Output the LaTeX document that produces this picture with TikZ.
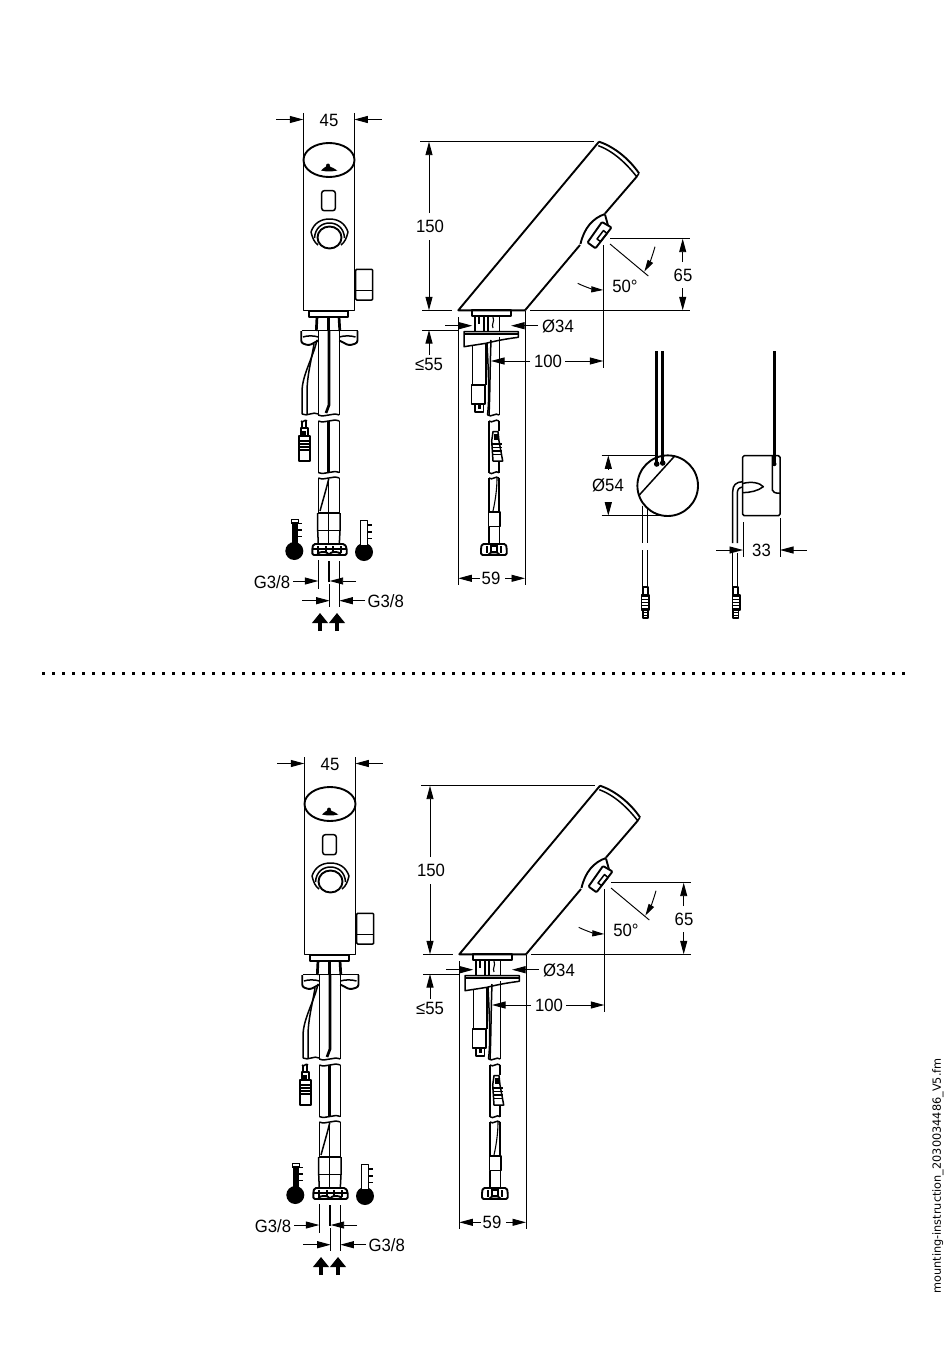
\documentclass[tikz,border=0pt]{standalone}
\usepackage{fontspec}
\setmainfont{Liberation Sans}
\newfontfamily\dimfont[FakeStretch=0.94]{Liberation Sans}
\newfontfamily\sidefont{DejaVu Sans}
\usetikzlibrary{arrows.meta}
\newcommand{\wavecut}[3]{\draw[part] (#1,#3) .. controls ({#1+(#2-#1)/3},{#3+3}) and ({#1+2*(#2-#1)/3},{#3-3}) .. (#2,#3);}
% striped plug: left right top-of-stripes bottom-of-stripes
\newcommand{\stripeplug}[4]{%
  \draw[part,fill=white] (#1,#3) rectangle (#2,#4);
  \foreach \yy in {0,0.2,0.4,0.6,0.8}{\draw[thin2,line width=1.3pt] (#1,{#3+\yy*(#4-#3)+1.5}) -- (#2,{#3+\yy*(#4-#3)+1.5});}}
\tikzset{
  part/.style={line width=1.5pt,line join=round},
  bold/.style={line width=1.9pt,line join=round},
  heavy/.style={line width=2.7pt},
  thin2/.style={line width=1.1pt},
  dimline/.style={line width=0.95pt},
  dimarrow/.style={line width=0.95pt,-{Triangle[length=13.5pt,width=7pt]}},
  curvearrow/.style={line width=0.95pt,-{Triangle[length=12pt,width=6pt]}},
  dimtext/.style={font=\dimfont\fontsize{17.8}{17.8}\selectfont,inner sep=0pt,anchor=center},
  flowarrow/.style={line width=4pt,-{Triangle[length=10pt,width=15.5pt]}},
  faucet/.pic={
    % ---------- front view ----------
    \draw[part] (303.3,160) -- (303.3,310.7) -- (354.3,310.7) -- (354.3,160);
    \draw[bold] (329,160) ellipse [x radius=25.5,y radius=17];
    % logo
    \fill (321,170.5) .. controls (323,168) and (325,167.5) .. (326,166.5) .. controls (325.5,162.5) and (330.5,162.5) .. (330,166.5) .. controls (331,167.5) and (335,168) .. (337.3,170.5) .. controls (331,171.8) and (327,171.8) .. (321,170.5) -- cycle;
    \draw[part,rounded corners=2.5pt] (321.7,190.7) rectangle (335.3,210.7);
    % sensor
    \draw[part] (318,245) .. controls (314,242) and (312.5,238) .. (311,232) .. controls (314,223) and (321,219) .. (329.5,219) .. controls (338,219) and (345,223) .. (348,232) .. controls (346.5,238) and (345,242) .. (341,245);
    \draw[part] (314.5,238) .. controls (315,228) and (322,223) .. (329.5,223) .. controls (337,223) and (344,228) .. (344.5,238);
    \draw[line width=1.9pt,fill=white] (329.5,237.5) ellipse [x radius=12,y radius=11];
    % side knob
    \draw[part,rounded corners=1pt] (355.7,300) -- (355.7,269.3) -- (372.7,269.3) -- (372.7,300) -- cycle;
    \draw[thin2] (355.7,290.7) -- (372.7,290.7);
    % base
    \draw[bold] (309.3,310.7) rectangle (348.3,316.7);
    \draw[heavy] (317,316.7) -- (316.3,331);
    \draw[heavy] (328.5,316.7) -- (328.5,331);
    \draw[heavy] (339,316.7) -- (339.8,331);
    \draw[part] (301.7,330.5) -- (357.5,330.5);
    \draw[bold,rounded corners=2.5pt] (301.2,331) -- (301.2,343) -- (309,345.5) -- (318.3,340.5);
    \draw[part] (303,337) .. controls (307,335.5) and (314,335.5) .. (318.3,337);
    \draw[bold,rounded corners=2.5pt] (357.5,331) -- (357.5,343) -- (349,345.5) -- (339.3,340.5);
    \draw[part] (355.5,337) .. controls (351,335.5) and (344,335.5) .. (339.3,337);
    % hoses upper
    \draw[part] (318.3,331) -- (318.3,415);
    \draw[heavy] (329,331) -- (329,405) -- (326,413);
    \draw[part] (339.3,331) -- (339.3,415);
    \draw[part] (317,340) .. controls (313,358) and (302,375) .. (302,392) -- (302,414);
    \draw[part] (314,344) .. controls (311,362) and (307,376) .. (307,392) -- (307,414);
    \wavecut{302}{318.3}{414}\wavecut{318.3}{339.3}{415}
    % hoses mid
    \draw[part] (318.3,421) -- (318.3,472.5);\draw[part] (339.3,421) -- (339.3,472.5);
    \draw[heavy] (328.7,421) -- (328.7,472.5);
    \wavecut{318.3}{339.3}{421}\wavecut{318.3}{339.3}{472.5}
    % plug front
    \draw[part] (302,421) -- (302,428);\draw[part] (306,421) -- (306,428);
    \wavecut{301}{307}{421}
    \draw[part] (301,428) rectangle (308,436);
    \draw[bold] (299.3,436) rectangle (310,460.7);
    \foreach \yy in {441,444,447,450}{\draw[thin2] (299.3,\yy) -- (310,\yy);}
    \fill (302,431) rectangle (305.5,435);
    % hoses lower
    \draw[part] (318.3,478) -- (318.3,512);\draw[part] (339.3,478) -- (339.3,512);
    \wavecut{318.3}{339.3}{478}
    \draw[part] (328.7,479) .. controls (326,490) and (323,500) .. (320,511);
    \draw[part] (328.7,479) -- (328.7,512);
    \draw[part] (317.7,513) -- (340,513);
    \draw[part] (317.7,513) -- (317.7,530.7) -- (318.3,544);\draw[part] (340,513) -- (340,530.7) -- (339.3,544);
    \draw[part] (328.7,513) -- (328.7,544);
    \draw[part] (317.7,530.7) -- (340,530.7);
    \draw[bold,rounded corners=1.5pt,fill=white] (313.5,544) -- (344.5,544) -- (346.7,548) -- (346.7,555) -- (312.3,555) -- (312.3,548) -- cycle;
    \draw[bold] (317,555) arc (180:360:6 and 3);\draw[bold] (329,555) arc (180:360:6 and 3);
    \foreach \xx in {318,326,333,341}{\fill (\xx-1.3,546) rectangle (\xx+1.3,553);}
    \draw[thin2] (312.3,549) -- (346.7,549);
    % thermometers
    \fill (294.3,551) circle [radius=9];
    \fill (291.7,523) rectangle (298.3,545);
    \draw[thin2] (291.7,519.3) rectangle (298.3,523);
    \foreach \yy in {523.5,530,536.5}{\draw[thin2] (298.3,\yy) -- (302,\yy);}
    \fill (364,552) circle [radius=9];
    \draw[part,fill=white] (360.7,545) -- (360.7,520.5) -- (367.7,520.5) -- (367.7,545);
    \foreach \yy in {525,532,538.5}{\draw[thin2] (367.7,\yy) -- (372,\yy);}
    % ---------- front dims ----------
    \draw[dimline] (303.3,113) -- (303.3,160);\draw[dimline] (354.3,113) -- (354.3,160);
    \draw[dimarrow] (276,119.5) -- (303.3,119.5);
    \draw[dimarrow] (381.7,119.5) -- (354.3,119.5);
    \node[dimtext] (t45) at (329,120) {45};
    \draw[dimline] (318.3,560) -- (318.3,589);
    \draw[line width=1.6pt] (328.7,561) -- (328.7,582);
    \draw[dimline] (329.7,584) -- (329.7,607);
    \draw[dimline] (339.3,561) -- (339.3,607);
    \draw[dimarrow] (293,581) -- (318.3,581);
    \draw[dimarrow] (356,581) -- (329.7,581);
    \draw[dimarrow] (302,600.7) -- (329.7,600.7);
    \draw[dimarrow] (365,600.7) -- (339.3,600.7);
    \node[dimtext] (tg1) at (272,582) {G3/8};
    \node[dimtext] (tg2) at (385.7,601) {G3/8};
    \draw[flowarrow] (320,631) -- (320,613);
    \draw[flowarrow] (337,631) -- (337,613);
    % ---------- side view ----------
    \draw[bold] (525,310.3) -- (458.3,310.3) -- (599,141.7);
    \draw[bold] (599,141.7) .. controls (615,147) and (630,160) .. (639,173.3);
    \draw[part] (598.3,145.7) .. controls (613,151) and (626,163) .. (636.7,176.7) -- (639,173.3);
    \draw[bold] (636.7,176.7) -- (605,213.5);
    \draw[bold] (605,214) .. controls (593,218) and (584,228) .. (580.5,244);
    \draw[bold] (580,245) -- (525,310.3);
    \draw[bold,rounded corners=1pt,fill=white] (602,222) -- (611.5,227.5) -- (595.5,248.3) -- (587.5,242.5) -- cycle;
    \draw[bold] (605,214.5) -- (608,225.5);
    \draw[part] (597,239) -- (603.5,230.5) -- (607,233.5) -- (600.5,241.5) -- cycle;
    % base and fittings
    \draw[bold] (472.3,310.3) rectangle (511,316);
    \draw[part] (475,316) -- (475,332);\draw[part] (484,316) -- (484,332);
    \draw[part] (488,316) -- (488,332);\draw[part] (499.3,316) -- (499.3,332);
    \draw[thin2] (479,317) -- (479,324);\draw[thin2] (493,317) .. controls (495,322) and (491,324) .. (493,328);
    \draw[part,fill=white] (464,331.7) -- (518.3,331.7) -- (518.3,337.3) .. controls (505,339) and (495,341) .. (486,343.3) -- (464,346.7) -- cycle;
    \draw[thin2] (464,334) -- (518.3,334);
    \draw[part] (472.7,346) -- (472.7,385);\draw[part] (486,343.5) -- (486,385);
    \draw[part] (471.7,385) rectangle (485,404);
    \draw[part] (475,404) rectangle (483.3,412);
    \fill (477.5,405) rectangle (481,409);
    \draw[part] (487,343) .. controls (488,365) and (490,395) .. (487.5,415);
    \draw[part] (491,340) .. controls (490,365) and (490,395) .. (489,415);
    \draw[part] (499.3,337) -- (499.3,415);
    \wavecut{487.5}{499.3}{415}
    \draw[part] (489,421) -- (489,472.7);\draw[part] (499,421) -- (499,431);\draw[part] (499,461) -- (499,472.7);
    \wavecut{489}{499}{421}\wavecut{489}{499}{472.7}
    \draw[part,fill=white] (493,431.7) -- (498,431.7) -- (499,441) -- (502.7,461) -- (493,461) -- (491.7,441) -- cycle;
    \foreach \yy in {444,447.5,451,454.5}{\draw[thin2] (492,\yy) -- (501.5,\yy);}
    \fill (493.5,434) rectangle (497.5,440);
    \draw[part] (489,478) -- (489,512);\draw[part] (499,478) -- (499,512);
    \wavecut{489}{499}{478}
    \draw[thin2] (497,478) .. controls (497,490) and (495,502) .. (493,511);
    \draw[part] (488.3,512) rectangle (500,526.7);
    \draw[part] (489,526.7) -- (489,545);\draw[part] (499.5,526.7) -- (499.5,545);
    \draw[bold,rounded corners=1.5pt,fill=white] (482,544) -- (505.7,544) -- (506.7,548) -- (506.7,555) -- (481,555) -- (481,548) -- cycle;
    \draw[part] (488,555) arc (180:360:6 and 2.5);
    \foreach \xx in {487,501}{\fill (\xx-1.2,546) rectangle (\xx+1.2,553);}
    \draw[thin2] (491,546) rectangle (497,552);
    % ---------- side dims ----------
    \draw[dimline] (420,141.7) -- (594,141.7);
    \draw[dimline] (422,310.3) -- (452,310.3);
    \draw[dimline] (530,310.3) -- (690,310.3);
    \draw[dimline] (610,238.7) -- (690,238.7);
    \draw[dimarrow] (429,213) -- (429,141.7);
    \draw[dimarrow] (429,240) -- (429,310.3);
    \node[dimtext] (t150) at (430,226.5) {150};
    \draw[dimarrow] (682.7,262) -- (682.7,238.7);
    \draw[dimarrow] (682.7,288) -- (682.7,310.3);
    \node[dimtext] (t65) at (683,275) {65};
    \draw[dimline] (603.3,245) -- (603.3,368);
    \draw[dimline] (610,244) -- (648.3,276);
    \draw[curvearrow] (655,246.7) .. controls (653,254) and (650,262) .. (644.3,271.7);
    \draw[curvearrow] (577.7,283.3) .. controls (585,287) and (594,289.5) .. (603.3,290);
    \node[dimtext] (t50) at (625,286.5) {50°};
    \draw[dimline] (458.3,317) -- (458.3,585);
    \draw[dimline] (525,311) -- (525,585);
    \draw[dimarrow] (445,325.7) -- (472.3,325.7);
    \draw[dimarrow] (538,325.7) -- (511,325.7);
    \node[dimtext] (td34) at (558,326) {Ø34};
    \draw[dimline] (422,330) -- (458,330);
    \draw[dimarrow] (429,355) -- (429,330);
    \node[dimtext] (t55) at (429,364.5) {≤55};
    \draw[dimarrow] (530,361) -- (491,361);
    \draw[dimarrow] (565,361) -- (603.3,361);
    \node[dimtext] (t100) at (548,361.5) {100};
    \draw[dimarrow] (480,578.3) -- (458.3,578.3);
    \draw[dimarrow] (505,578.3) -- (525,578.3);
    \node[dimtext] (t59) at (491,578.5) {59};
  },
  sensorviews/.pic={
    % round view
    \draw[line width=1.9pt] (667.7,485.7) circle [radius=30.3];
    \draw[part] (675,455.7) -- (639.3,495);
    \draw[heavy] (656.7,351) -- (656.7,462);\draw[heavy] (662.7,351) -- (662.7,462);
    \fill (656.7,464) circle [radius=2.8];\fill (662.7,463) circle [radius=2.8];
    \draw[part] (642.3,505.7) -- (642.3,543);\draw[part] (647.3,509) -- (647.3,543);
    \draw[part] (642.3,550) -- (642.3,587);\draw[part] (647.3,550) -- (647.3,587);
    \draw[part] (643,587) rectangle (648,596);
    \stripeplug{641.7}{649}{595}{610}
    \draw[part] (643,610) rectangle (648,618);
    \foreach \yy in {612.5,615.5}{\draw[thin2] (643,\yy) -- (648,\yy);}
    \draw[dimline] (601.7,455.3) -- (655,455.3);
    \draw[dimline] (601.7,515.7) -- (660,515.7);
    \draw[dimarrow] (608.3,469) -- (608.3,455.3);
    \draw[dimarrow] (608.3,503) -- (608.3,515.7);
    \node[dimtext] (td54) at (608,485) {Ø54};
    % side view
    \draw[part,rounded corners=1.5pt] (742.7,455.7) -- (780,455.7) -- (780,515.7) -- (742.7,515.7) -- cycle;
    \draw[part] (772.3,456) -- (772.3,490) .. controls (772.5,492) and (775,493.3) .. (780,493.3);
    \draw[heavy] (774.3,351) -- (774.3,463);
    \fill (774.3,464) circle [radius=2.2];
    \draw[part] (742.7,483.5) .. controls (752,481) and (760,483) .. (763.3,486.7) .. controls (758,491) and (750,492.5) .. (742.7,492.7);
    \draw[part] (742.7,481.7) .. controls (736,482) and (732.7,485) .. (732.7,491.7) -- (732.7,543);
    \draw[part] (742.7,487) .. controls (739,487.5) and (737.3,489.5) .. (737.3,493) -- (737.3,543);
    \draw[part] (732.7,553) -- (732.7,587);\draw[part] (737.3,553) -- (737.3,587);
    \draw[part] (733,587) rectangle (738,596);
    \stripeplug{732.3}{740}{595}{610}
    \draw[part] (733,610) rectangle (738.5,618);
    \foreach \yy in {612.5,615.5}{\draw[thin2] (733,\yy) -- (738.5,\yy);}
    \draw[dimline] (743,522) -- (743,556.7);
    \draw[dimline] (780,518) -- (780,556.7);
    \draw[dimarrow] (716,550) -- (743,550);
    \draw[dimarrow] (806.7,550) -- (780,550);
    \node[dimtext] (t33) at (761.5,550.5) {33};
  }
}
\begin{document}
\begin{tikzpicture}[x=1pt,y=-1pt]
  \useasboundingbox (0,0) rectangle (950,1370);
  \pic (upper) at (0,0) {faucet};
  \pic (views) at (0,0) {sensorviews};
  \draw[line width=3pt,dash pattern=on 3pt off 7pt] (42,673) -- (909,673);
  \pic (lower) at (1,644) {faucet};
  \node[rotate=90,inner sep=0pt,font=\sidefont\fontsize{11.3}{11.3}\selectfont] (docname) at (938,1176) {mounting-instruction\_2030034486\_V5.fm};
\end{tikzpicture}
\end{document}
